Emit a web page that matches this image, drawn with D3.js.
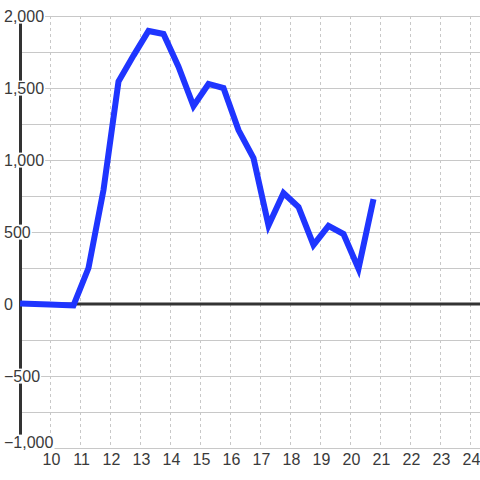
<!DOCTYPE html>
<html>
<head>
<meta charset="utf-8">
<script src="https://cdn.jsdelivr.net/npm/d3@7"></script>
<style>
  html, body { margin: 0; padding: 0; background: #ffffff; }
  svg { display: block; font-family: "Liberation Sans", Arial, sans-serif; }
</style>
</head>
<body>
<svg id="chart" width="480" height="480"></svg>
<script>
// ---- data ----
const times  = [8.97, 9.95, 10.75, 11.25, 11.75, 12.25, 12.75, 13.25, 13.75, 14.25, 14.75, 15.25, 15.75, 16.25, 16.75, 17.25, 17.75, 18.25, 18.75, 19.25, 19.75, 20.25, 20.75];
const values = [3, -3, -10, 250, 792, 1545, 1725, 1896, 1875, 1648, 1375, 1528, 1500, 1208, 1014, 545, 771, 674, 410, 542, 486, 245, 729];
const xTicks = [10, 11, 12, 13, 14, 15, 16, 17, 18, 19, 20, 21, 22, 23, 24];
const yTicks = [-1000, -500, 0, 500, 1000, 1500, 2000];
const yGrid  = [-1000, -750, -500, -250, 0, 250, 500, 750, 1000, 1250, 1500, 1750, 2000];

const mLeft = 20, mRight = 480, mTop = 16, mBottom = 448;

const x = d3.scaleLinear().domain([8.967, 24.3]).range([mLeft, mRight]);
const y = d3.scaleLinear().domain([-1000, 2000]).range([mBottom, mTop]);

const svg = d3.select("#chart");

// vertical dotted grid
svg.append("g").selectAll("line").data(xTicks).join("line")
  .attr("x1", d => x(d)).attr("x2", d => x(d))
  .attr("y1", mTop).attr("y2", mBottom)
  .attr("stroke", "#c8c8c8").attr("stroke-width", 1)
  .attr("stroke-dasharray", "3,3")
  .attr("shape-rendering", "crispEdges");

// horizontal grid
svg.append("g").selectAll("line").data(yGrid).join("line")
  .attr("x1", mLeft).attr("x2", mRight)
  .attr("y1", d => Math.round(y(d)) + 0.5).attr("y2", d => Math.round(y(d)) + 0.5)
  .attr("stroke", "#c8c8c8").attr("stroke-width", 1);

// zero line
svg.append("line")
  .attr("x1", mLeft).attr("x2", mRight)
  .attr("y1", y(0)).attr("y2", y(0))
  .attr("stroke", "#333333").attr("stroke-width", 3);

// y axis line
svg.append("line")
  .attr("x1", mLeft + 0.5).attr("x2", mLeft + 0.5)
  .attr("y1", mTop).attr("y2", mBottom)
  .attr("stroke", "#333333").attr("stroke-width", 3);

// y axis labels (with white background)
const fmt = d3.format(",");
const yAxis = d3.axisLeft(y).tickValues(yTicks).tickSize(0).tickFormat(fmt);
const gy = svg.append("g").attr("class", "yaxis").call(yAxis);
gy.select(".domain").remove();
gy.selectAll(".tick").each(function(d) {
  const t = d3.select(this);
  const ty = Math.min(y(d), 442);
  t.attr("transform", `translate(0,${ty})`);
  const txt = t.select("text")
    .attr("x", 4).attr("dy", "0.35em")
    .attr("text-anchor", "start")
    .attr("fill", "#3a3a3a")
    .attr("font-size", 16)
    .attr("font-family", "'Liberation Sans', Arial, sans-serif");
  const bb = txt.node().getBBox();
  t.insert("rect", "text")
    .attr("x", bb.x - 1).attr("y", bb.y + 1)
    .attr("width", bb.width + 2).attr("height", bb.height - 2)
    .attr("fill", "#ffffff");
});

// x axis labels
const xAxis = d3.axisBottom(x).tickValues(xTicks).tickSize(0).tickFormat(d3.format("d"));
const gx = svg.append("g").attr("transform", `translate(0,${mBottom})`).call(xAxis);
gx.select(".domain").remove();
gx.selectAll("text")
  .attr("y", 13).attr("dy", "0")
  .attr("dominant-baseline", "middle")
  .attr("fill", "#3a3a3a")
  .attr("font-size", 16)
  .attr("font-family", "'Liberation Sans', Arial, sans-serif");

// data line
const pts = times.map((t, i) => [t, values[i]]);
svg.append("path")
  .datum(pts)
  .attr("d", d3.line().x(d => x(d[0])).y(d => y(d[1])))
  .attr("fill", "none")
  .attr("stroke", "#1f35ff")
  .attr("stroke-width", 6)
  .attr("stroke-linejoin", "miter");
</script>
</body>
</html>
